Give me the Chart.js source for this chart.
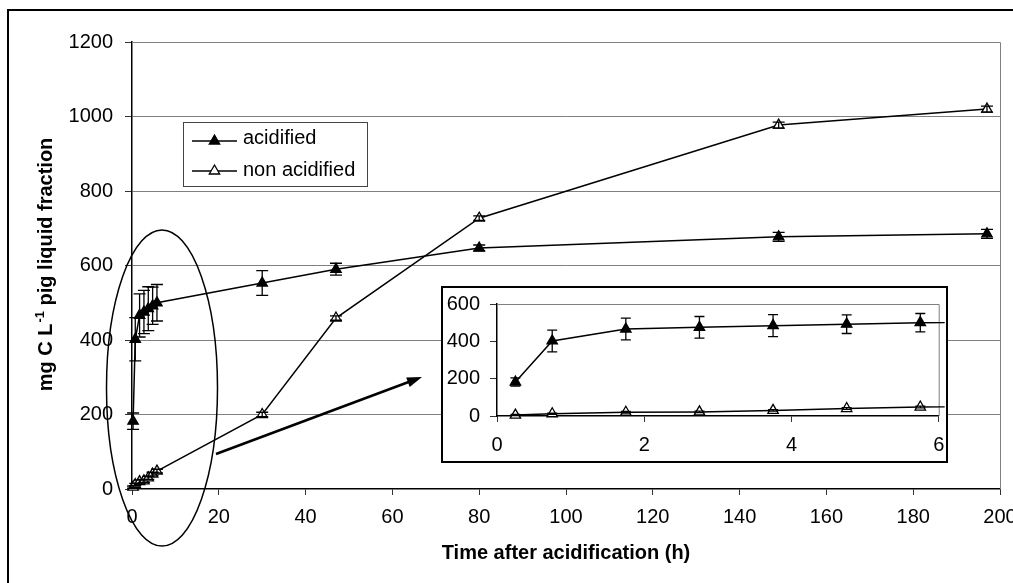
<!DOCTYPE html>
<html>
<head>
<meta charset="utf-8">
<script src="https://cdn.jsdelivr.net/npm/chart.js@4.4.1/dist/chart.umd.min.js"></script>
<style>
  html, body { margin: 0; padding: 0; background: #fff; overflow: hidden; }
  #wrap { position: relative; width: 1013px; height: 583px; overflow: hidden; }
  #frame { position: absolute; left: 7px; top: 9px; width: 2000px; height: 2000px; border: 2px solid #000; }
  #main { position: absolute; left: 0; top: 0; }
  #insetBox { position: absolute; left: 441px; top: 286px; width: 507px; height: 177px;
              border: 2px solid #000; background: #fff; box-sizing: border-box; }
  #inset { position: absolute; left: 0; top: 0; }
</style>
</head>
<body>
<div id="wrap">
  <div id="frame"></div>
  <canvas id="main" width="1013" height="583"></canvas>
  <div id="insetBox"><canvas id="inset" width="503" height="173"></canvas></div>
</div>
<script>
// sampling times (h) and measured values (mg C / L)
const hours = [0.25, 0.75, 1.75, 2.75, 3.75, 4.75, 5.75, 30, 47, 80, 149, 197];
const acidified = [182, 402, 466, 475, 484, 492, 500, 553, 590, 647, 677, 685];
const acidifiedErr = [22, 58, 58, 58, 59, 50, 49, 33, 16, 8, 12, 12];
const nonAcidified = [5, 12, 20, 22, 30, 40, 48, 200, 459, 727, 977, 1020];
const nonAcidifiedErr = [3, 3, 4, 4, 4, 5, 5, 6, 6, 6, 8, 8];
const seriesNames = ['acidified', 'non acidified'];

const FONT = '"Liberation Sans", Arial, sans-serif';

const pts = (vals) => hours.map((h, i) => ({ x: h, y: vals[i] }));

const makeDatasets = () => [
  { label: seriesNames[0], data: pts(acidified), errors: acidifiedErr,
    pointBackgroundColor: '#000' },
  { label: seriesNames[1], data: pts(nonAcidified), errors: nonAcidifiedErr,
    pointBackgroundColor: '#fff' }
].map(ds => Object.assign(ds, {
  borderColor: '#000', borderWidth: 1.5, tension: 0,
  pointStyle: 'triangle', pointRadius: 6, pointHoverRadius: 6,
  pointBorderColor: '#000', pointBorderWidth: 1.3
}));

function tri(ctx, x, y, r, fill) {
  ctx.beginPath();
  ctx.moveTo(x, y - r);
  ctx.lineTo(x + r * 0.866, y + r / 2);
  ctx.lineTo(x - r * 0.866, y + r / 2);
  ctx.closePath();
  ctx.fillStyle = fill;
  ctx.fill();
  ctx.lineWidth = 1.3;
  ctx.strokeStyle = '#000';
  ctx.stroke();
}

const errorBars = {
  id: 'errorBars',
  afterDatasetsDraw(chart, args, opts) {
    const { ctx, chartArea: a, scales: { x, y } } = chart;
    const cap = opts.cap || 6;
    ctx.save();
    ctx.beginPath();
    ctx.rect(a.left - 8, a.top - 8, a.right - a.left + (opts.right || 16), a.bottom - a.top + 16);
    ctx.clip();
    ctx.strokeStyle = '#000';
    ctx.lineWidth = 1.3;
    chart.data.datasets.forEach(ds => {
      ds.data.forEach((p, i) => {
        const px = x.getPixelForValue(p.x);
        const t = y.getPixelForValue(p.y + ds.errors[i]);
        const b = y.getPixelForValue(p.y - ds.errors[i]);
        ctx.beginPath();
        ctx.moveTo(px, t); ctx.lineTo(px, b);
        ctx.moveTo(px - cap, t); ctx.lineTo(px + cap, t);
        ctx.moveTo(px - cap, b); ctx.lineTo(px + cap, b);
        ctx.stroke();
      });
    });
    ctx.restore();
  }
};

const plotBorder = {
  id: 'plotBorder',
  beforeDatasetsDraw(chart) {
    const { ctx, chartArea: a } = chart;
    ctx.save();
    ctx.strokeStyle = '#808080';
    ctx.lineWidth = 1;
    ctx.beginPath();
    ctx.moveTo(a.left, a.top + 0.5);
    ctx.lineTo(a.right + 0.5, a.top + 0.5);
    ctx.lineTo(a.right + 0.5, a.bottom);
    ctx.stroke();
    ctx.restore();
  }
};

// titles, legend, ellipse and arrow of the main chart
const decorations = {
  id: 'decorations',
  afterDraw(chart) {
    const { ctx, chartArea: a } = chart;
    ctx.save();
    ctx.fillStyle = '#000';

    ctx.font = 'bold 20px ' + FONT;
    ctx.textAlign = 'center';
    ctx.textBaseline = 'alphabetic';
    ctx.fillText('Time after acidification (h)', (a.left + a.right) / 2, 559);

    ctx.save();
    ctx.translate(52, 265);
    ctx.rotate(-Math.PI / 2);
    ctx.textAlign = 'left';
    const p1 = 'mg C L', sup = '-1', p2 = ' pig liquid fraction';
    ctx.font = 'bold 20px ' + FONT;
    const w1 = ctx.measureText(p1).width, w3 = ctx.measureText(p2).width;
    ctx.font = 'bold 13px ' + FONT;
    const w2 = ctx.measureText(sup).width;
    let sx = -(w1 + w2 + w3) / 2;
    ctx.font = 'bold 20px ' + FONT;
    ctx.fillText(p1, sx, 0);
    ctx.font = 'bold 13px ' + FONT;
    ctx.fillText(sup, sx + w1 + 1, -8);
    ctx.font = 'bold 20px ' + FONT;
    ctx.fillText(p2, sx + w1 + w2 + 1, 0);
    ctx.restore();

    // legend
    ctx.fillStyle = '#fff';
    ctx.fillRect(183.5, 122.5, 184, 64);
    ctx.strokeStyle = '#444';
    ctx.lineWidth = 1;
    ctx.strokeRect(183.5, 122.5, 184, 64);
    const rows = [{ y: 141, fill: '#000', base: 144 }, { y: 171, fill: '#fff', base: 176 }];
    rows.forEach((r, i) => {
      ctx.strokeStyle = '#000';
      ctx.lineWidth = 1.5;
      ctx.beginPath();
      ctx.moveTo(192, r.y); ctx.lineTo(237, r.y);
      ctx.stroke();
      tri(ctx, 214.5, r.y, 6, r.fill);
      ctx.fillStyle = '#000';
      ctx.font = '20px ' + FONT;
      ctx.textAlign = 'left';
      ctx.fillText(seriesNames[i], 243, r.base);
    });

    // ellipse round the first hours
    ctx.strokeStyle = '#000';
    ctx.lineWidth = 1.5;
    ctx.beginPath();
    ctx.ellipse(162, 388, 55.5, 158, 0, 0, Math.PI * 2);
    ctx.stroke();

    // arrow to the inset
    const x0 = 216, y0 = 454, x1 = 422, y1 = 377;
    const ang = Math.atan2(y1 - y0, x1 - x0);
    ctx.lineWidth = 2.5;
    ctx.beginPath();
    ctx.moveTo(x0, y0);
    ctx.lineTo(x1 - 10 * Math.cos(ang), y1 - 10 * Math.sin(ang));
    ctx.stroke();
    ctx.fillStyle = '#000';
    ctx.beginPath();
    ctx.moveTo(x1, y1);
    ctx.lineTo(x1 - 15 * Math.cos(ang) + 5 * Math.sin(ang), y1 - 15 * Math.sin(ang) - 5 * Math.cos(ang));
    ctx.lineTo(x1 - 15 * Math.cos(ang) - 5 * Math.sin(ang), y1 - 15 * Math.sin(ang) + 5 * Math.cos(ang));
    ctx.closePath();
    ctx.fill();
    ctx.restore();
  }
};

const noPad = (s) => { s.paddingLeft = 0; s.paddingRight = 0; s.paddingTop = 0; s.paddingBottom = 0; };
const tickFont = { family: FONT, size: 20 };
const plain = (v) => String(v);

new Chart(document.getElementById('main'), {
  type: 'line',
  data: { datasets: makeDatasets() },
  plugins: [plotBorder, errorBars, decorations],
  options: {
    responsive: false,
    animation: false,
    clip: false,
    layout: { padding: { left: 0, top: 42, right: 13, bottom: 0 } },
    plugins: { legend: { display: false }, tooltip: { enabled: false }, errorBars: { cap: 6 } },
    scales: {
      x: {
        type: 'linear', min: 0, max: 200,
        ticks: { stepSize: 20, font: tickFont, color: '#000', padding: 10, maxRotation: 0, autoSkip: false, callback: plain },
        grid: { drawOnChartArea: false, drawTicks: true, tickLength: 6, tickColor: '#333' },
        border: { color: '#000', width: 1.5 },
        afterFit: (s) => { s.height = 94; noPad(s); }
      },
      y: {
        min: 0, max: 1200,
        ticks: { stepSize: 200, font: tickFont, color: '#000', padding: 12, callback: plain },
        grid: { color: (c) => c.tick && c.tick.value === 0 ? 'rgba(0,0,0,0)' : '#808080',
                tickColor: '#333', tickLength: 7, lineWidth: 1 },
        border: { color: '#000', width: 1.5 },
        afterFit: (s) => { s.width = 132; noPad(s); }
      }
    }
  }
});

new Chart(document.getElementById('inset'), {
  type: 'line',
  data: { datasets: makeDatasets().map(ds => Object.assign(ds, { clip: { left: 8, top: 8, right: 6, bottom: 8 } })) },
  plugins: [plotBorder, errorBars],
  options: {
    responsive: false,
    animation: false,
    layout: { padding: { left: 0, top: 16, right: 6, bottom: 0 } },
    plugins: { legend: { display: false }, tooltip: { enabled: false }, errorBars: { cap: 5, right: 14 } },
    scales: {
      x: {
        type: 'linear', min: 0, max: 6,
        ticks: { stepSize: 2, font: tickFont, color: '#000', padding: 11, maxRotation: 0, autoSkip: false, callback: plain },
        grid: { drawOnChartArea: false, drawTicks: true, tickLength: 6, tickColor: '#333' },
        border: { color: '#000', width: 1.5 },
        afterFit: (s) => { s.height = 45; noPad(s); }
      },
      y: {
        min: 0, max: 600,
        ticks: { stepSize: 200, font: tickFont, color: '#000', padding: 10, callback: plain },
        grid: { drawOnChartArea: false, drawTicks: true, tickLength: 7, tickColor: '#333' },
        border: { color: '#000', width: 1.5 },
        afterFit: (s) => { s.width = 54; noPad(s); }
      }
    }
  }
});
</script>
</body>
</html>
